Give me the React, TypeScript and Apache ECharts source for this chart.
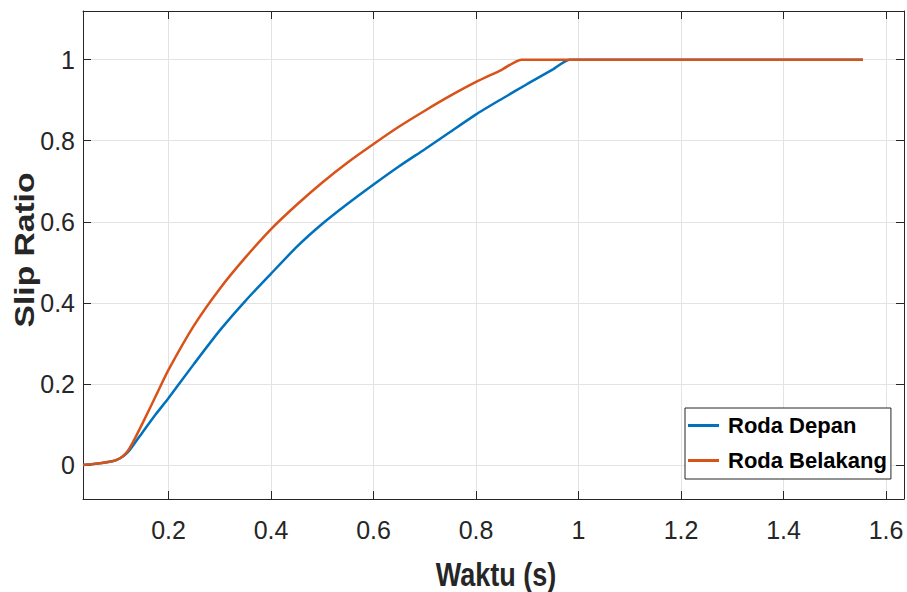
import React, { useEffect, useRef } from "react";
import * as echarts from "echarts";

// Waktu (s)
const timeDepan = [0.033, 0.05, 0.07, 0.09, 0.1, 0.11, 0.12, 0.13, 0.15, 0.175, 0.2, 0.25, 0.3, 0.35, 0.4, 0.45, 0.5, 0.55, 0.6, 0.65, 0.7, 0.75, 0.8, 0.85, 0.9, 0.95, 0.982, 1.2, 1.4, 1.555];
const slipDepan = [0.0, 0.002, 0.005, 0.009, 0.013, 0.02, 0.031, 0.047, 0.082, 0.125, 0.165, 0.25, 0.332, 0.405, 0.472, 0.538, 0.595, 0.645, 0.692, 0.737, 0.779, 0.822, 0.865, 0.903, 0.94, 0.976, 1.0, 1.0, 1.0, 1.0];

const timeBelakang = [0.033, 0.05, 0.07, 0.09, 0.1, 0.11, 0.12, 0.13, 0.15, 0.175, 0.2, 0.25, 0.3, 0.35, 0.4, 0.45, 0.5, 0.55, 0.6, 0.65, 0.7, 0.75, 0.8, 0.85, 0.888, 1.2, 1.4, 1.555];
const slipBelakang = [0.0, 0.002, 0.005, 0.009, 0.013, 0.021, 0.034, 0.055, 0.105, 0.17, 0.235, 0.345, 0.435, 0.512, 0.582, 0.642, 0.697, 0.747, 0.792, 0.835, 0.874, 0.911, 0.945, 0.975, 1.0, 1.0, 1.0, 1.0];

const xTicks = [0.2, 0.4, 0.6, 0.8, 1, 1.2, 1.4, 1.6];
const yTicks = [0, 0.2, 0.4, 0.6, 0.8, 1];

const seriesNames = ["Roda Depan", "Roda Belakang"];
const colors = ["#0072BD", "#D95319"];

const X_MIN = 0.033;
const X_MAX = 1.635;
const Y_MIN = -0.084;
const Y_MAX = 1.12;

const AXIS_COLOR = "#262626";
const GRID_COLOR = "#e3e3e3";
const FONT = '"Liberation Sans", Arial, Helvetica, sans-serif';

export default function App() {
  const ref = useRef<HTMLDivElement>(null);

  useEffect(() => {
    if (!ref.current) return;
    const chart = echarts.init(ref.current, undefined, { renderer: "svg" });

    const pairs = (t: number[], v: number[]) => t.map((x, i) => [x, v[i]]);
    const fmt = (v: number) => String(parseFloat(v.toFixed(2)));

    const xCommon = {
      type: "value" as const,
      min: X_MIN,
      max: X_MAX,
      axisLine: { show: true, onZero: false, lineStyle: { color: AXIS_COLOR, width: 1 } },
      axisTick: {
        show: true,
        inside: true,
        length: 8,
        customValues: xTicks,
        lineStyle: { color: AXIS_COLOR, width: 1 },
      },
    };
    const yCommon = {
      type: "value" as const,
      min: Y_MIN,
      max: Y_MAX,
      axisLine: { show: true, onZero: false, lineStyle: { color: AXIS_COLOR, width: 1 } },
      axisTick: {
        show: true,
        inside: true,
        length: 8,
        customValues: yTicks,
        lineStyle: { color: AXIS_COLOR, width: 1 },
      },
    };

    chart.setOption({
      animation: false,
      backgroundColor: "#ffffff",
      grid: { left: 83, right: 3, top: 11, bottom: 93, containLabel: false },
      xAxis: [
        {
          ...xCommon,
          position: "bottom",
          axisLabel: {
            customValues: xTicks,
            margin: 18,
            color: AXIS_COLOR,
            fontFamily: FONT,
            fontSize: 25,
            formatter: fmt,
          },
          splitLine: { show: true, customValues: xTicks, lineStyle: { color: GRID_COLOR, width: 1 } },
        },
        {
          ...xCommon,
          position: "top",
          axisLabel: { show: false },
          splitLine: { show: false },
        },
      ],
      yAxis: [
        {
          ...yCommon,
          position: "left",
          axisLabel: {
            customValues: yTicks,
            margin: 8,
            color: AXIS_COLOR,
            fontFamily: FONT,
            fontSize: 25,
            formatter: fmt,
          },
          splitLine: { show: true, customValues: yTicks, lineStyle: { color: GRID_COLOR, width: 1 } },
        },
        {
          ...yCommon,
          position: "right",
          axisLabel: { show: false },
          splitLine: { show: false },
        },
      ],
      legend: {
        orient: "vertical",
        left: 685,
        top: 408,
        padding: [4, 4, 5, 3],
        itemGap: 8,
        itemWidth: 31,
        itemHeight: 3,
        icon: "rect",
        backgroundColor: "#ffffff",
        borderColor: AXIS_COLOR,
        borderWidth: 1,
        borderRadius: 0,
        data: seriesNames,
        textStyle: {
          color: "#000000",
          fontFamily: FONT,
          fontWeight: "bold",
          fontSize: 22,
          lineHeight: 27,
          padding: [0, 0, 0, 4],
        },
      },
      graphic: [
        {
          type: "text",
          x: 496,
          y: 575,
          scaleY: 1.2,
          style: {
            text: "Waktu (s)",
            font: 'bold 27px "Liberation Sans", Arial, sans-serif',
            fill: AXIS_COLOR,
            align: "center",
            verticalAlign: "middle",
          },
        },
        {
          type: "text",
          x: 24,
          y: 250,
          rotation: Math.PI / 2,
          scaleX: 1.2,
          style: {
            text: "Slip Ratio",
            font: 'bold 28px "Liberation Sans", Arial, sans-serif',
            fill: AXIS_COLOR,
            align: "center",
            verticalAlign: "middle",
          },
        },
      ],
      series: [
        {
          name: seriesNames[0],
          type: "line",
          xAxisIndex: 0,
          yAxisIndex: 0,
          data: pairs(timeDepan, slipDepan),
          smooth: 0.2,
          symbol: "none",
          color: colors[0],
          lineStyle: { color: colors[0], width: 2.5 },
        },
        {
          name: seriesNames[1],
          type: "line",
          xAxisIndex: 0,
          yAxisIndex: 0,
          data: pairs(timeBelakang, slipBelakang),
          smooth: 0.2,
          symbol: "none",
          color: colors[1],
          lineStyle: { color: colors[1], width: 2.5 },
        },
      ],
    });

    return () => chart.dispose();
  }, []);

  return <div ref={ref} style={{ width: 907, height: 592, position: "absolute", left: 0, top: 0 }} />;
}
